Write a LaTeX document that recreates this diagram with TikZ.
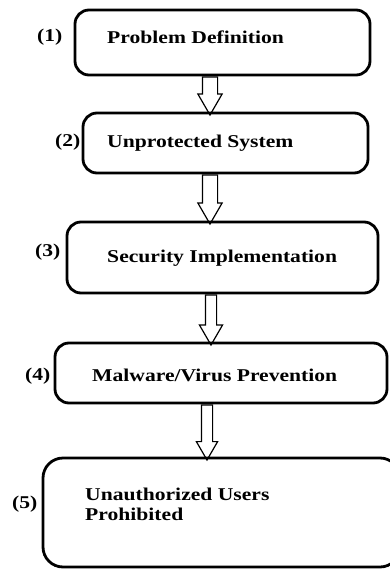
\documentclass[tikz,border=0pt]{standalone}
\usepackage{fontspec}
\setmainfont{Liberation Serif}
\usetikzlibrary{shapes.arrows}

\tikzstyle{stage} = [draw, line width=2.8pt, rounded corners=14pt, inner sep=0pt]
\tikzstyle{txt} = [font=\fontsize{18}{20}\selectfont\bfseries, xscale=1.2, align=left, anchor=base west, inner sep=0pt]

\begin{document}
\begin{tikzpicture}[x=1pt,y=-1pt,
		arr/.style={single arrow, draw, line width=1.2pt, rotate=-90, anchor=tail, inner xsep=0pt, inner ysep=7pt,
			minimum width=0pt, single arrow head extend=4.5pt, single arrow tip angle=60, single arrow head indent=0pt}]
		\useasboundingbox (0,0) rectangle (389,570);
		\node (a) [stage, minimum width=295, minimum height=65] at (222.5,42.5) {};
		\node (b) [stage, minimum width=285, minimum height=60] at (225.5,143) {};
		\node (c) [stage, minimum width=311, minimum height=71] at (222.5,257.5) {};
		\node (d) [stage, minimum width=332, minimum height=60] at (221,373) {};
		\node (e) [stage, minimum width=357, minimum height=109, rounded corners=20pt] at (221.5,512.5) {};
		\node (ta) [txt] at (107,43) {Problem Definition};
		\node (tb) [txt] at (107,147) {Unprotected System};
		\node (tc) [txt] at (107,262) {Security Implementation};
		\node (td) [txt] at (92,381) {Malware/Virus Prevention};
		\node (te) [txt] at (85,520) {Unauthorized Users\\Prohibited};
		\node (na) [txt] at (37,41) {(1)};
		\node (nb) [txt] at (55,146) {(2)};
		\node (nc) [txt] at (35,256) {(3)};
		\node (nd) [txt] at (25,380) {(4)};
		\node (ne) [txt] at (12,508) {(5)};
		\node (ab) [arr, minimum height=38] at (a.south -| 210,0) {};
		\node (bc) [arr, minimum height=49] at (b.south -| 210,0) {};
		\node (cd) [arr, minimum height=50, inner ysep=5pt, single arrow head extend=6pt] at (c.south -| 211,0) {};
		\node (de) [arr, minimum height=55, inner ysep=5pt, single arrow head extend=5pt] at (d.south -| 207,0) {};
	\end{tikzpicture}
\end{document}
